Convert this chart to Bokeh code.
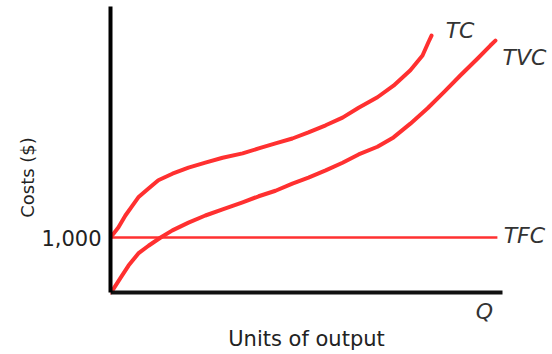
from bokeh.plotting import figure
from bokeh.models import Range1d, FixedTicker, Label
from bokeh.embed import file_html
from bokeh.resources import INLINE

# Output (x) and cost (y) values
q_tc = [0, 2, 3.8, 5.6, 7.1, 9.7, 12.2, 15.8, 19.9, 24.2, 28.6, 33.7, 37.8, 42.1,
        46.4, 50.5, 54.9, 59.2, 63.3, 68.1, 72.2, 76.5, 79.6, 81.1, 81.9]
tc = [1000, 1180, 1400, 1580, 1730, 1890, 2040, 2160, 2270, 2360, 2450, 2530, 2620, 2710,
      2800, 2910, 3040, 3180, 3360, 3550, 3760, 4040, 4310, 4550, 4670]
q_tvc = [0, 0.8, 2.6, 4.6, 7.1, 9.7, 12.8, 15.8, 19.9, 24.2, 28.6, 33.7, 37.8, 42.1,
         46.4, 50.5, 54.9, 59.2, 63.3, 68.1, 72.2, 76.5, 80.9, 85.0, 89.3, 93.6, 96.9, 98.2]
tvc = [0, 70, 270, 490, 710, 850, 1000, 1130, 1270, 1400, 1510, 1640, 1750, 1850,
       1980, 2090, 2220, 2360, 2510, 2650, 2820, 3070, 3350, 3640, 3950, 4250, 4490, 4580]
q_tfc = [0, 98.7]
tfc = [1000, 1000]
y_ticks = [1000]
y_tick_labels = {1000: "1,000"}

RED = "#ff3030"
FONT = "DejaVu Sans"

p = figure(width=552, height=354, output_backend="svg", toolbar_location=None,
           x_range=Range1d(0, 112.76), y_range=Range1d(-1127, 5309),
           min_border_left=110, min_border_right=0, min_border_top=0,
           min_border_bottom=0)
p.outline_line_color = None
p.grid.visible = False
p.background_fill_color = "white"

p.line(q_tvc, tvc, line_color=RED, line_width=4, line_join="round", line_cap="round")
p.line(q_tc, tc, line_color=RED, line_width=4, line_join="round", line_cap="round")
p.line(q_tfc, tfc, line_color=RED, line_width=2.5)

# Y axis
ya = p.yaxis[0]
ya.bounds = (0, 5200)
ya.ticker = FixedTicker(ticks=y_ticks)
ya.major_label_overrides = y_tick_labels
ya.major_tick_out = 0
ya.major_tick_in = 0
ya.minor_tick_out = 0
ya.minor_tick_in = 0
ya.major_label_standoff = 9
ya.major_label_text_font = FONT
ya.major_label_text_font_size = "21px"
ya.major_label_text_color = "#222222"
ya.axis_line_color = "black"
ya.axis_line_width = 4
ya.axis_label = "Costs ($)"
ya.axis_label_text_font = FONT
ya.axis_label_text_font_size = "18px"
ya.axis_label_text_font_style = "normal"
ya.axis_label_text_color = "#222222"
ya.axis_label_standoff = 0

# X axis, drawn at cost = 0
xa = p.xaxis[0]
xa.fixed_location = 0
xa.bounds = (0, 100)
xa.ticker = FixedTicker(ticks=[])
xa.major_tick_out = 0
xa.major_tick_in = 0
xa.minor_tick_out = 0
xa.minor_tick_in = 0
xa.major_label_standoff = 0
xa.axis_line_color = "#111111"
xa.axis_line_width = 4
xa.axis_label = "Units of output"
xa.axis_label_text_font = FONT
xa.axis_label_text_font_size = "21px"
xa.axis_label_text_font_style = "normal"
xa.axis_label_text_color = "#222222"
xa.axis_label_standoff = 34

def lab(text, x, y, align="left"):
    p.add_layout(Label(x=x, y=y, text=text, text_font=FONT, text_font_size="22px",
                       text_font_style="italic", text_color="#333333",
                       text_align=align, text_baseline="middle"))

lab("TC", 85.5, 4764)
lab("TVC", 100, 4273)
lab("TFC", 100.3, 1036)
lab("Q", 95.4, -345, "center")

open("out.html", "w").write(file_html(p, INLINE))
